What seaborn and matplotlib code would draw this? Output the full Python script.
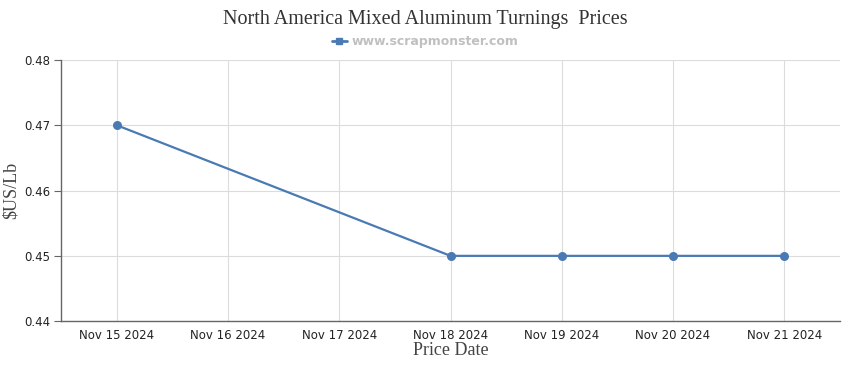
import numpy as np
import pandas as pd
import matplotlib
matplotlib.use("Agg")
import matplotlib.pyplot as plt
import matplotlib.dates as mdates
from matplotlib.lines import Line2D
import seaborn as sns

dates = ["2024-11-15", "2024-11-18", "2024-11-19", "2024-11-20", "2024-11-21"]
prices = [0.47, 0.45, 0.45, 0.45, 0.45]
yticks = [0.44, 0.45, 0.46, 0.47, 0.48]

df = pd.DataFrame({"date": pd.to_datetime(dates), "price": prices})

sns.set_style("white")
LINE = "#4a7ab4"

fig = plt.figure(figsize=(8.5, 3.7), dpi=100)
ax = fig.add_axes([0.072, 0.132, 0.916, 0.706])

sns.lineplot(data=df, x="date", y="price", ax=ax, color=LINE, lw=1.6,
             marker="o", markersize=6.5, markeredgewidth=0, zorder=3)

ax.set_xlim(pd.Timestamp("2024-11-14 12:00"), pd.Timestamp("2024-11-21 12:00"))
ax.set_ylim(0.44, 0.48)
ax.set_yticks(yticks)
ax.set_yticklabels([f"{v:.2f}" for v in yticks])
ax.xaxis.set_major_locator(mdates.DayLocator())
ax.xaxis.set_major_formatter(mdates.DateFormatter("%b %d %Y"))

ax.grid(True, color="#dcdcdc", lw=0.8)
ax.set_axisbelow(True)
for s in ["top", "right"]:
    ax.spines[s].set_visible(False)
for s in ["left", "bottom"]:
    ax.spines[s].set_color("#666666")
    ax.spines[s].set_linewidth(1.0)
ax.tick_params(axis="x", length=0, pad=6, labelsize=8.5, colors="#222222")
ax.tick_params(axis="y", length=5, width=0.8, color="#666666", pad=3,
               labelsize=8.5, labelcolor="#222222", left=True)

ax.set_xlabel("Price Date", family="Liberation Serif", fontsize=13,
              color="#444444", labelpad=0)
ax.set_ylabel("$US/Lb", family="Liberation Serif", fontsize=13,
              color="#444444", labelpad=3)

fig.text(0.5, 0.948, "North America Mixed Aluminum Turnings  Prices",
         ha="center", va="center", family="Liberation Serif", fontsize=14.5,
         color="#333333")
handle = Line2D([], [], color=LINE, lw=2, marker="s", markersize=4)
leg = fig.legend([handle], ["www.scrapmonster.com"], loc="center",
                 bbox_to_anchor=(0.5, 0.888), frameon=False, handlelength=1.2,
                 handletextpad=0.4, prop={"weight": "bold", "size": 9})
for t in leg.get_texts():
    t.set_color("#c0c0c0")

fig.savefig("out.png", dpi=100)
